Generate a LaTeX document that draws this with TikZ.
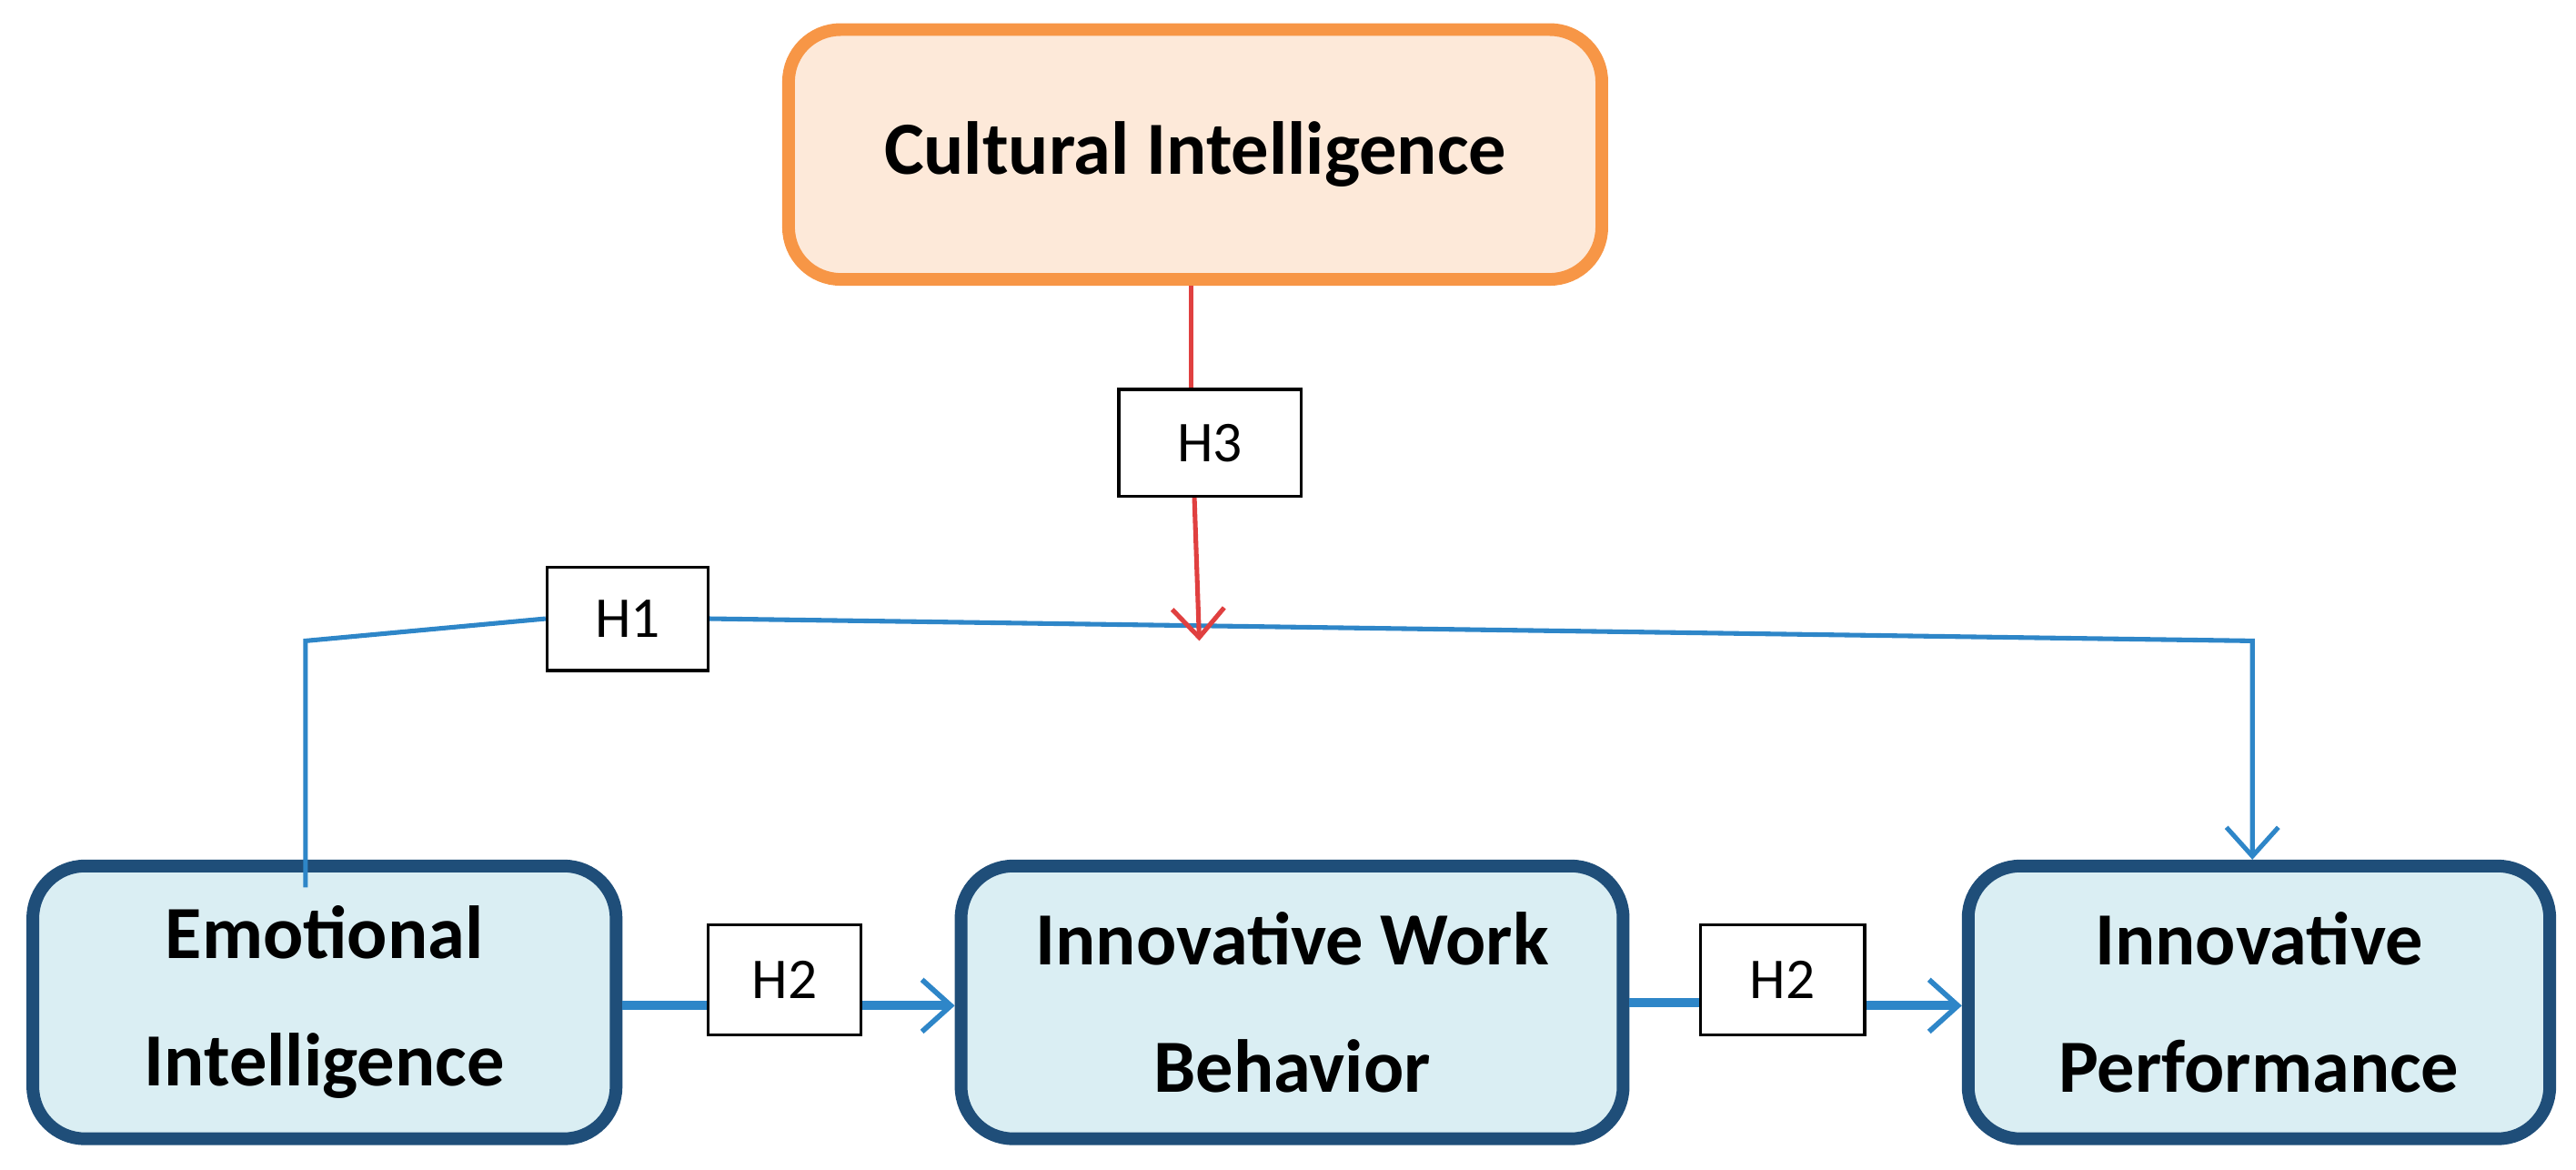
\documentclass[tikz,border=0pt]{standalone}
\usepackage{fontspec}
\setmainfont{Carlito}
\usetikzlibrary{arrows.meta}
\definecolor{obord}{HTML}{F79646}
\definecolor{ofill}{HTML}{FDE9D9}
\definecolor{bbord}{HTML}{1F4E79}
\definecolor{bfill}{HTML}{DAEEF3}
\definecolor{lblue}{HTML}{2E86C8}
\definecolor{lred}{HTML}{E04040}
\tikzset{
  orangebox/.style={draw=obord,fill=ofill,line width=2.2pt,rounded corners=9pt,align=center,font=\fontsize{13}{16}\selectfont\bfseries,inner sep=0pt},
  bluebox/.style={draw=bbord,fill=bfill,line width=2.2pt,rounded corners=9pt,align=center,font=\fontsize{13}{22}\selectfont\bfseries,inner sep=0pt},
  hbox/.style={draw=black,fill=white,line width=0.5pt,font=\fontsize{10}{12}\selectfont,inner sep=0pt},
  blueline/.style={draw=lblue,line width=0.8pt},
  bluearrow/.style={blueline,-{Straight Barb[length=5pt,width=9pt]}},
  thickarrow/.style={draw=lblue,line width=1.6pt,-{Straight Barb[length=5pt,width=9pt,line width=0.9pt]}},
  redarrow/.style={draw=lred,line width=0.8pt,-{Straight Barb[length=5pt,width=9pt]}}
}
\begin{document}
\begin{tikzpicture}
\useasboundingbox (0,0) rectangle (15.68,7.12);
\node[orangebox,minimum width=4.95cm,minimum height=1.52cm] (ci) at (7.275,6.18) {Cultural Intelligence};
\node[bluebox,minimum width=3.55cm,minimum height=1.66cm] (ei) at (1.975,1.02) {Emotional\\Intelligence};
\node[bluebox,minimum width=4.03cm,minimum height=1.66cm] (iwb) at (7.865,1.02) {Innovative Work\\Behavior};
\node[bluebox,minimum width=3.54cm,minimum height=1.66cm] (ip) at (13.75,1.02) {Innovative\\Performance};
\node[hbox,minimum width=1.11cm,minimum height=0.65cm] (h3) at (7.365,4.425) {H3};
\node[hbox,minimum width=0.98cm,minimum height=0.63cm] (h1) at (3.82,3.355) {H1};
\node[hbox,minimum width=0.93cm,minimum height=0.67cm] (h2a) at (4.775,1.155) {H2};
\node[hbox,minimum width=1.0cm,minimum height=0.67cm] (h2b) at (10.85,1.155) {H2};
\coordinate (eis) at (1.86,1.72);
\coordinate (c1) at (1.86,3.22);
\coordinate (c2) at (13.71,3.22);
\coordinate (mid) at (7.30,3.22);
\draw[blueline] (eis) -- (c1) -- (h1.west);
\draw[bluearrow] (h1.east) -- (c2) -- (ip.north -| c2);
\draw[draw=lred,line width=0.8pt] (ci.south -| 7.25,0) -- (h3.north -| 7.25,0);
\draw[redarrow] (h3.south -| 7.27,0) -- (mid);
\draw[draw=lblue,line width=1.6pt] (ei.east |- 0,1.0) -- (h2a.west |- 0,1.0);
\draw[thickarrow] (h2a.east |- 0,1.0) -- (iwb.west |- 0,1.0);
\draw[draw=lblue,line width=1.6pt] (iwb.east |- 0,1.02) -- (h2b.west |- 0,1.02);
\draw[thickarrow] (h2b.east |- 0,1.0) -- (ip.west |- 0,1.0);
\end{tikzpicture}
\end{document}
